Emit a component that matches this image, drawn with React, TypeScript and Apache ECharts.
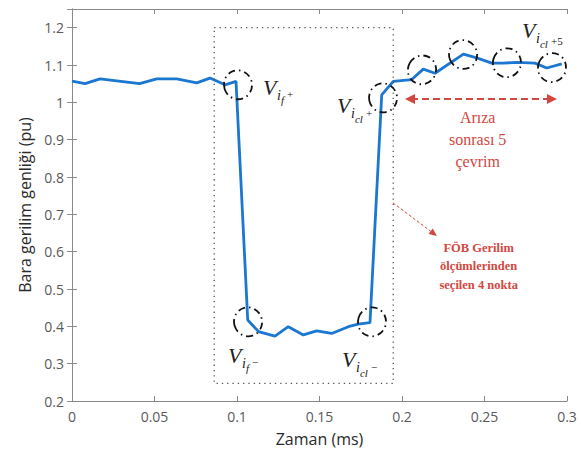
import React, { useEffect, useRef } from "react";
import * as echarts from "echarts";

// Time (ms) and bus voltage magnitude (pu)
const timeMs = [
  0, 0.0079, 0.017, 0.041, 0.0513, 0.0635, 0.0756, 0.0836, 0.0927, 0.0994,
  0.1065, 0.113, 0.123, 0.1311, 0.1402, 0.1483, 0.1574, 0.1675, 0.1735, 0.1806,
  0.1877, 0.1947, 0.2059, 0.2129, 0.22, 0.2372, 0.2453, 0.2544, 0.2614, 0.2695,
  0.2806, 0.2877, 0.2968,
];
const voltagePu = [
  1.057, 1.05, 1.063, 1.05, 1.063, 1.063, 1.052, 1.065, 1.047, 1.056,
  0.417, 0.386, 0.374, 0.399, 0.377, 0.388, 0.381, 0.399, 0.406, 0.41,
  1.02, 1.056, 1.061, 1.089, 1.078, 1.129, 1.119, 1.105, 1.105, 1.107,
  1.105, 1.092, 1.103,
];

// Annotations (data coordinates)
const selectionBox = { x0: 0.0862, x1: 0.1947, y0: 0.247, y1: 1.2 };
const circleCenters = [
  [0.1006, 1.047], [0.1885, 1.012], [0.2121, 1.087], [0.237, 1.128],
  [0.2636, 1.106], [0.2909, 1.093], [0.1067, 0.412], [0.1818, 0.412],
];
const circleRotations = [0.3, 0.2, -0.5, 0.4, -0.3, -0.4, 0.3, -0.3];
const labelTexts = [
  { pos: [0.1158, 1.04], sub: "f", sup: "+" },
  { pos: [0.1606, 0.991], sub: "cl", sup: "+" },
  { pos: [0.0945, 0.323], sub: "f", sup: "\u2212" },
  { pos: [0.1636, 0.31], sub: "cl", sup: "\u2212" },
  { pos: [0.2727, 1.192], sub: "cl", sup: "+5" },
];
const postFaultArrow = { x0: 0.2018, x1: 0.2939, y: 1.009 };
const postFaultLines = ["Arıza", "sonrası 5", "çevrim"];
const pointerLine = { x0: 0.1945, y0: 0.731, x1: 0.2212, y1: 0.642 };
const pointerLines = ["FÖB Gerilim", "ölçümlerinden", "seçilen 4 nokta"];

const RED = "#d2473f";
const AXIS = "#8a8a8a";

export default function App() {
  const ref = useRef<HTMLDivElement>(null);
  useEffect(() => {
    const chart = echarts.init(ref.current!, null, { renderer: "svg" });
    const axisCommon = {
      axisLine: { show: true, lineStyle: { color: AXIS, width: 1 } },
      axisTick: { show: true, inside: true, length: 5, lineStyle: { color: AXIS } },
      splitLine: { show: false },
    };
    chart.setOption({
      animation: false,
      backgroundColor: "#ffffff",
      grid: { left: 72, right: 14, top: 9, bottom: 52, containLabel: false },
      xAxis: [
        {
          type: "value", min: 0, max: 0.3, interval: 0.05, position: "bottom",
          ...axisCommon,
          axisLabel: {
            margin: 8, color: "#5a5a5a", fontSize: 14, fontFamily: "Open Sans",
            formatter: (v: number) => String(Math.round(v * 100) / 100),
          },
          name: "Zaman (ms)", nameLocation: "middle", nameGap: 30,
          nameTextStyle: { fontSize: 16, color: "#2a2a2a", fontFamily: "Open Sans" },
        },
        {
          type: "value", min: 0, max: 0.3, interval: 0.05, position: "top",
          ...axisCommon, axisLabel: { show: false },
        },
      ],
      yAxis: [
        {
          type: "value", min: 0.2, max: 1.25, interval: 0.1, position: "left",
          ...axisCommon,
          axisLabel: {
            margin: 8, color: "#5a5a5a", fontSize: 14, fontFamily: "Open Sans",
            formatter: (v: number) =>
              Math.abs(v * 10 - Math.round(v * 10)) < 1e-6 ? String(Math.round(v * 10) / 10) : "",
          },
          name: "Bara gerilim genliği (pu)", nameLocation: "middle", nameGap: 36,
          nameTextStyle: { fontSize: 16, color: "#2a2a2a", fontFamily: "Open Sans" },
        },
        {
          type: "value", min: 0.2, max: 1.25, interval: 0.1, position: "right",
          ...axisCommon, axisLabel: { show: false },
        },
      ],
      series: [
        {
          type: "line",
          data: timeMs.map((t, i) => [t, voltagePu[i]]),
          showSymbol: false,
          lineStyle: { color: "#1b77d0", width: 2.8 },
          z: 3,
        },
      ],
    });

    const px = (x: number, y: number) =>
      chart.convertToPixel({ xAxisIndex: 0, yAxisIndex: 0 }, [x, y]) as number[];

    const graphics: any[] = [];
    // dotted selection box
    const b0 = px(selectionBox.x0, selectionBox.y1);
    const b1 = px(selectionBox.x1, selectionBox.y0);
    graphics.push({
      type: "rect", shape: { x: b0[0], y: b0[1], width: b1[0] - b0[0], height: b1[1] - b0[1] },
      style: { fill: "none", stroke: "#555", lineWidth: 1.3, lineDash: [1.3, 4] }, z: 10,
    });
    // dash-dot ellipses
    circleCenters.forEach((c, i) => {
      const p = px(c[0], c[1]);
      graphics.push({
        type: "ellipse", x: p[0], y: p[1], rotation: circleRotations[i],
        shape: { cx: 0, cy: 0, rx: 14, ry: 14.5 },
        style: { fill: "none", stroke: "#111", lineWidth: 1.8, lineDash: [7, 4, 1.5, 4] }, z: 11,
      });
    });
    // V labels
    labelTexts.forEach((l) => {
      const p = px(l.pos[0], l.pos[1]);
      const font = "Liberation Serif";
      const subW = l.sub === "cl" ? 10 : 5;
      graphics.push({
        type: "group", x: p[0], y: p[1], z: 12,
        children: [
          { type: "text", x: 0, y: 0, style: { text: "V", fontSize: 22, fontStyle: "italic", fontFamily: font, fill: "#222", verticalAlign: "middle", textVerticalAlign: "middle" } },
          { type: "text", x: 14, y: 8, style: { text: "i", fontSize: 14, fontStyle: "italic", fontFamily: font, fill: "#222", verticalAlign: "middle", textVerticalAlign: "middle" } },
          { type: "text", x: 18, y: 13, style: { text: l.sub, fontSize: 11, fontStyle: "italic", fontFamily: font, fill: "#222", verticalAlign: "middle", textVerticalAlign: "middle" } },
          { type: "text", x: 19 + subW, y: l.sup === "+5" ? 10 : 7, style: { text: l.sup, fontSize: 11, fontFamily: font, fill: "#222", verticalAlign: "middle", textVerticalAlign: "middle" } },
        ],
      });
    });
    // post-fault double arrow
    const a0 = px(postFaultArrow.x0, postFaultArrow.y);
    const a1 = px(postFaultArrow.x1, postFaultArrow.y);
    graphics.push({
      type: "line", shape: { x1: a0[0] + 6, y1: a0[1], x2: a1[0] - 6, y2: a1[1] },
      style: { stroke: RED, lineWidth: 2, lineDash: [7, 4] }, z: 12,
    });
    graphics.push({
      type: "polygon", shape: { points: [[a0[0], a0[1]], [a0[0] + 10, a0[1] - 5], [a0[0] + 10, a0[1] + 5]] },
      style: { fill: RED }, z: 12,
    });
    graphics.push({
      type: "polygon", shape: { points: [[a1[0], a1[1]], [a1[0] - 10, a1[1] - 5], [a1[0] - 10, a1[1] + 5]] },
      style: { fill: RED }, z: 12,
    });
    const tc = px((postFaultArrow.x0 + postFaultArrow.x1) / 2 - 0.002, postFaultArrow.y);
    postFaultLines.forEach((s, i) => {
      graphics.push({
        type: "text", x: tc[0], y: tc[1] + 19 + i * 22,
        style: { text: s, fontSize: 16, fontFamily: "Liberation Serif", fill: RED, align: "center", textAlign: "center", verticalAlign: "middle", textVerticalAlign: "middle" },
        z: 12,
      });
    });
    // pointer to selected points
    const q0 = px(pointerLine.x0, pointerLine.y0);
    const q1 = px(pointerLine.x1, pointerLine.y1);
    const ang = Math.atan2(q1[1] - q0[1], q1[0] - q0[0]);
    const ah = 8, aw = 3.5;
    const bx = q1[0] - ah * Math.cos(ang), by = q1[1] - ah * Math.sin(ang);
    graphics.push({
      type: "line", shape: { x1: q0[0], y1: q0[1], x2: bx, y2: by },
      style: { stroke: RED, lineWidth: 1, lineDash: [3, 2] }, z: 12,
    });
    graphics.push({
      type: "polygon",
      shape: { points: [[q1[0], q1[1]], [bx - aw * Math.sin(ang), by + aw * Math.cos(ang)], [bx + aw * Math.sin(ang), by - aw * Math.cos(ang)]] },
      style: { fill: RED }, z: 12,
    });
    pointerLines.forEach((s, i) => {
      graphics.push({
        type: "text", x: tc[0] + 1, y: q1[1] + 12 + i * 18.5,
        style: { text: s, fontSize: 12.5, fontWeight: "bold", fontFamily: "Liberation Serif", fill: RED, align: "center", textAlign: "center", verticalAlign: "middle", textVerticalAlign: "middle" },
        z: 12,
      });
    });
    chart.setOption({ graphic: graphics });
    return () => chart.dispose();
  }, []);
  return (
    <div
      ref={ref}
      style={{ position: "fixed", left: 0, top: 0, width: 581, height: 453, background: "#fff" }}
    />
  );
}
